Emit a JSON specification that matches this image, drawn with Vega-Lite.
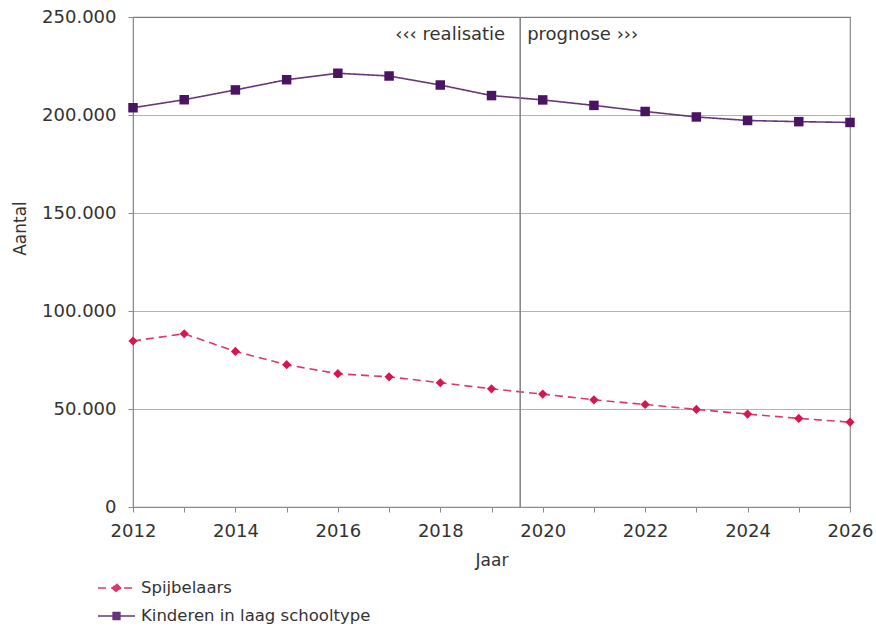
{
  "$schema": "https://vega.github.io/schema/vega-lite/v6.json",
  "width": 717,
  "height": 490,
  "autosize": {"type": "none"},
  "padding": {"left": 133, "top": 17, "right": 26, "bottom": 120},
  "background": "white",
  "config": {
    "font": "DejaVu Sans",
    "view": {"stroke": "#8c8c8c", "strokeWidth": 1.2},
    "axis": {
      "labelFont": "DejaVu Sans",
      "titleFont": "DejaVu Sans",
      "labelFontSize": 18,
      "titleFontSize": 17,
      "labelColor": "#333333",
      "titleColor": "#333333",
      "titleFontWeight": "normal",
      "domainColor": "#8c8c8c",
      "tickColor": "#8c8c8c",
      "tickSize": 5
    },
    "legend": {
      "labelFont": "DejaVu Sans",
      "labelFontSize": 16.5,
      "labelColor": "#333333"
    }
  },
  "datasets": {
    "series": [
      {"Jaar": 2012, "Reeks": "Kinderen in laag schooltype", "Aantal": 203700},
      {"Jaar": 2013, "Reeks": "Kinderen in laag schooltype", "Aantal": 207800},
      {"Jaar": 2014, "Reeks": "Kinderen in laag schooltype", "Aantal": 212800},
      {"Jaar": 2015, "Reeks": "Kinderen in laag schooltype", "Aantal": 218000},
      {"Jaar": 2016, "Reeks": "Kinderen in laag schooltype", "Aantal": 221300},
      {"Jaar": 2017, "Reeks": "Kinderen in laag schooltype", "Aantal": 219900},
      {"Jaar": 2018, "Reeks": "Kinderen in laag schooltype", "Aantal": 215300},
      {"Jaar": 2019, "Reeks": "Kinderen in laag schooltype", "Aantal": 209900},
      {"Jaar": 2020, "Reeks": "Kinderen in laag schooltype", "Aantal": 207700},
      {"Jaar": 2021, "Reeks": "Kinderen in laag schooltype", "Aantal": 204900},
      {"Jaar": 2022, "Reeks": "Kinderen in laag schooltype", "Aantal": 201800},
      {"Jaar": 2023, "Reeks": "Kinderen in laag schooltype", "Aantal": 199000},
      {"Jaar": 2024, "Reeks": "Kinderen in laag schooltype", "Aantal": 197200},
      {"Jaar": 2025, "Reeks": "Kinderen in laag schooltype", "Aantal": 196600},
      {"Jaar": 2026, "Reeks": "Kinderen in laag schooltype", "Aantal": 196200},
      {"Jaar": 2012, "Reeks": "Spijbelaars", "Aantal": 84700},
      {"Jaar": 2013, "Reeks": "Spijbelaars", "Aantal": 88400},
      {"Jaar": 2014, "Reeks": "Spijbelaars", "Aantal": 79400},
      {"Jaar": 2015, "Reeks": "Spijbelaars", "Aantal": 72600},
      {"Jaar": 2016, "Reeks": "Spijbelaars", "Aantal": 68000},
      {"Jaar": 2017, "Reeks": "Spijbelaars", "Aantal": 66400},
      {"Jaar": 2018, "Reeks": "Spijbelaars", "Aantal": 63400},
      {"Jaar": 2019, "Reeks": "Spijbelaars", "Aantal": 60300},
      {"Jaar": 2020, "Reeks": "Spijbelaars", "Aantal": 57600},
      {"Jaar": 2021, "Reeks": "Spijbelaars", "Aantal": 54700},
      {"Jaar": 2022, "Reeks": "Spijbelaars", "Aantal": 52300},
      {"Jaar": 2023, "Reeks": "Spijbelaars", "Aantal": 49800},
      {"Jaar": 2024, "Reeks": "Spijbelaars", "Aantal": 47400},
      {"Jaar": 2025, "Reeks": "Spijbelaars", "Aantal": 45200},
      {"Jaar": 2026, "Reeks": "Spijbelaars", "Aantal": 43300}
    ],
    "split": [{"Jaar": 2019.56}],
    "labels": [
      {"Jaar": 2019.56, "Aantal": 241000, "tekst": "‹‹‹ realisatie", "kant": "links"},
      {"Jaar": 2019.56, "Aantal": 241000, "tekst": "prognose ›››", "kant": "rechts"}
    ]
  },
  "layer": [
    {
      "data": {"name": "series"},
      "mark": {"type": "line", "strokeWidth": 1.6, "opacity": 0.85},
      "encoding": {
        "x": {
          "field": "Jaar", "type": "quantitative",
          "scale": {"domain": [2012, 2026], "nice": false, "zero": false},
          "axis": {
            "title": "Jaar",
            "values": [2012, 2013, 2014, 2015, 2016, 2017, 2018, 2019, 2020, 2021, 2022, 2023, 2024, 2025, 2026],
            "labelExpr": "datum.value % 2 === 0 ? '' + datum.value : ''",
            "labelFlush": false,
            "labelOverlap": false,
            "grid": false,
            "labelPadding": 10,
            "titlePadding": 12
          }
        },
        "y": {
          "field": "Aantal", "type": "quantitative",
          "scale": {"domain": [0, 250000], "nice": false},
          "axis": {
            "title": "Aantal",
            "values": [0, 50000, 100000, 150000, 200000, 250000],
            "labelExpr": "replace(format(datum.value, ','), ',', '.')",
            "grid": true,
            "gridColor": "#666666",
            "gridDash": [1, 1],
            "gridWidth": 1,
            "labelPadding": 12,
            "titleX": -113,
            "titleY": 211,
            "titleAngle": 270,
            "titleAlign": "center",
            "titleBaseline": "middle"
          }
        },
        "color": {
          "field": "Reeks", "type": "nominal",
          "scale": {"domain": ["Spijbelaars", "Kinderen in laag schooltype"], "range": ["#d6164f", "#4a1462"]},
          "legend": {
            "title": null,
            "orient": "none",
            "legendX": -27.5,
            "legendY": 560,
            "padding": 0,
            "symbolSize": 400,
            "symbolStrokeWidth": 1.5,
            "labelOffset": 13.5,
            "rowPadding": 8,
            "labelLimit": 400
          }
        },
        "strokeDash": {
          "field": "Reeks", "type": "nominal",
          "scale": {"domain": ["Spijbelaars", "Kinderen in laag schooltype"], "range": [[8, 5], [1, 0]]},
          "legend": null
        }
      }
    },
    {
      "data": {"name": "series"},
      "mark": {"type": "point", "filled": true, "opacity": 0},
      "encoding": {
        "x": {"field": "Jaar", "type": "quantitative"},
        "y": {"field": "Aantal", "type": "quantitative"},
        "color": {"field": "Reeks", "type": "nominal"},
        "shape": {
          "field": "Reeks", "type": "nominal",
          "scale": {
            "domain": ["Spijbelaars", "Kinderen in laag schooltype"],
            "range": [
              "M-1.85,0H1.85M0,-0.42L0.42,0L0,0.42L-0.42,0Z",
              "M-1.85,0H1.85M-0.34,-0.34H0.34V0.34H-0.34Z"
            ]
          }
        }
      }
    },
    {
      "data": {"name": "series"},
      "transform": [{"filter": "datum.Reeks === 'Spijbelaars'"}],
      "mark": {"type": "point", "filled": true, "size": 85, "opacity": 1, "shape": "diamond", "color": "#d6164f"},
      "encoding": {
        "x": {"field": "Jaar", "type": "quantitative"},
        "y": {"field": "Aantal", "type": "quantitative"}
      }
    },
    {
      "data": {"name": "series"},
      "transform": [{"filter": "datum.Reeks !== 'Spijbelaars'"}],
      "mark": {"type": "point", "filled": true, "size": 90, "opacity": 1, "shape": "square", "color": "#4a1462"},
      "encoding": {
        "x": {"field": "Jaar", "type": "quantitative"},
        "y": {"field": "Aantal", "type": "quantitative"}
      }
    },
    {
      "data": {"name": "split"},
      "mark": {"type": "rule", "color": "#808080", "strokeWidth": 1.5},
      "encoding": {
        "x": {"field": "Jaar", "type": "quantitative"}
      }
    },
    {
      "data": {"name": "labels"},
      "transform": [{"filter": "datum.kant === 'links'"}],
      "mark": {"type": "text", "align": "right", "baseline": "middle", "dx": -15, "fontSize": 18, "color": "#333333"},
      "encoding": {
        "x": {"field": "Jaar", "type": "quantitative"},
        "y": {"field": "Aantal", "type": "quantitative"},
        "text": {"field": "tekst"}
      }
    },
    {
      "data": {"name": "labels"},
      "transform": [{"filter": "datum.kant === 'rechts'"}],
      "mark": {"type": "text", "align": "left", "baseline": "middle", "dx": 7, "fontSize": 18, "color": "#333333"},
      "encoding": {
        "x": {"field": "Jaar", "type": "quantitative"},
        "y": {"field": "Aantal", "type": "quantitative"},
        "text": {"field": "tekst"}
      }
    }
  ]
}
